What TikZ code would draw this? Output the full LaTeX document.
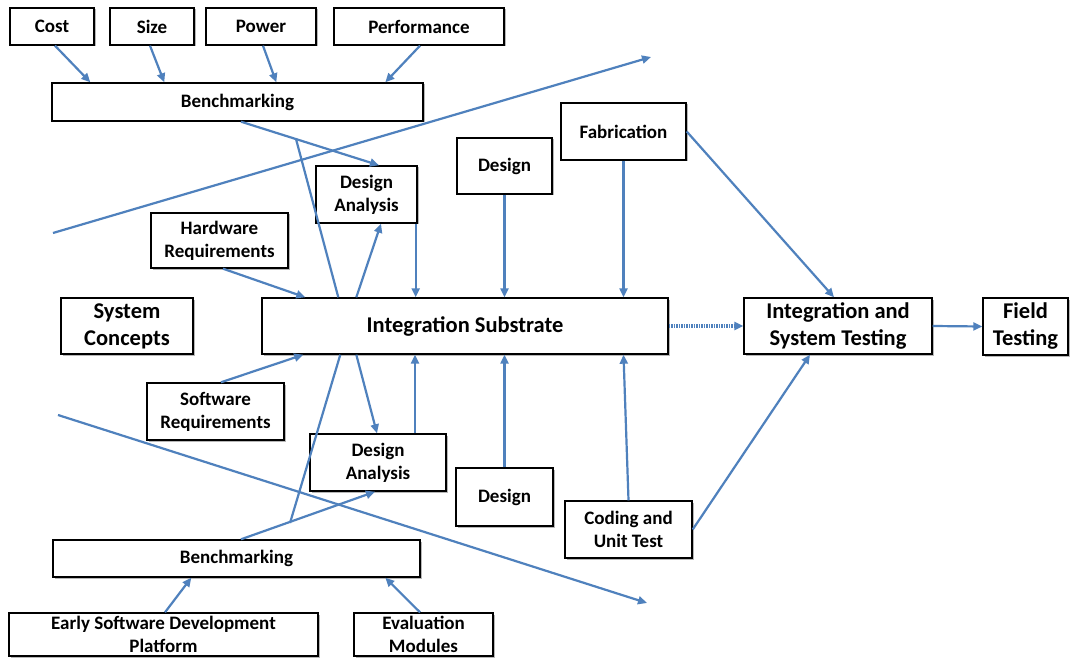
\documentclass[tikz,border=0pt]{standalone}
\usepackage{fontspec}
\setmainfont{Carlito}
\usetikzlibrary{arrows.meta, shadows}

\definecolor{flowblue}{RGB}{79,129,189}

\begin{document}
\begin{tikzpicture}[x=1pt, y=-1pt,
    block/.style={draw=black, line width=1.4pt, fill=white, inner sep=0pt, align=center,
        font=\fontsize{19}{23}\selectfont\bfseries,
        drop shadow={shadow xshift=1.5pt, shadow yshift=-1.5pt, fill=black!35, opacity=0.8}},
    bigbox/.style={block, font=\fontsize{22.5}{27}\selectfont\bfseries},
    flow/.style={-{Triangle[length=9pt, width=8pt]}, line width=2.2pt, flowblue},
    link/.style={line width=2.2pt, flowblue},
    dflow/.style={flow, dash pattern=on 1.5pt off 1pt, line width=3.5pt}
]
\fill[white] (0,0) rectangle (1070,660);
\useasboundingbox (0,0) rectangle (1070,660);

% Drivers along the top
\node[block, minimum width=84pt, minimum height=37pt] (C) at (52,26.5) {Cost};
\node[block, minimum width=84pt, minimum height=37pt] (Sz) at (152,26.5) {Size};
\node[block, minimum width=110pt, minimum height=37pt] (Pw) at (261,26.5) {Power};
\node[block, minimum width=170pt, minimum height=37pt] (Pf) at (419,26.5) {Performance};

% Hardware branch
\node[block, minimum width=371pt, minimum height=38pt] (B1) at (237.5,102) {Benchmarking};
\node[block, minimum width=101pt, minimum height=57pt] (DA1) at (366.5,194.5) {Design\\Analysis};
\node[block, minimum width=95pt, minimum height=56pt] (D1) at (504.5,166) {Design};
\node[block, minimum width=125pt, minimum height=57pt] (F) at (623.5,131.5) {Fabrication};
\node[block, minimum width=137pt, minimum height=55pt] (HR) at (219.5,240.5) {Hardware\\Requirements};

% Middle row
\node[bigbox, minimum width=132pt, minimum height=56pt] (SC) at (127,326) {System\\Concepts};
\node[bigbox, minimum width=406pt, minimum height=56pt] (IS) at (465,326) {Integration Substrate};
\node[bigbox, minimum width=188pt, minimum height=56pt] (IST) at (838,326) {Integration and\\System Testing};
\node[bigbox, minimum width=85pt, minimum height=57pt] (FT) at (1025.5,326.5) {Field\\Testing};

% Software branch
\node[block, minimum width=137pt, minimum height=57pt] (SR) at (215.5,411.5) {Software\\Requirements};
\node[block, minimum width=136pt, minimum height=57pt] (DA2) at (378,462.5) {Design\\Analysis};
\node[block, minimum width=97pt, minimum height=58pt] (D2) at (504.5,497) {Design};
\node[block, minimum width=127pt, minimum height=57pt] (CU) at (628.5,529.5) {Coding and\\Unit Test};
\node[block, minimum width=367pt, minimum height=37pt] (B2) at (236.5,558.5) {Benchmarking};
\node[block, minimum width=309pt, minimum height=43pt] (ESD) at (163.5,634.5) {Early Software Development\\Platform};
\node[block, minimum width=139pt, minimum height=43pt] (EM) at (423.5,634.5) {Evaluation\\Modules};

% Long sweeping arrows
\coordinate (T0) at (53,233);
\coordinate (T1) at (651,57);
\coordinate (S0) at (58,415);
\coordinate (S1) at (647,603);
\draw[flow] (T0) -- (T1);
\draw[flow] (S0) -- (S1);

% Inputs to benchmarking
\draw[flow] ([xshift=3pt]C.south) -- ([xshift=39pt]B1.north west);
\draw[flow] ([xshift=-2pt]Sz.south) -- ([xshift=113pt]B1.north west);
\draw[flow] ([xshift=2pt]Pw.south) -- ([xshift=225pt]B1.north west);
\draw[flow] ([xshift=1pt]Pf.south) -- ([xshift=334pt]B1.north west);

% Hardware side into the substrate
\draw[flow] ([xshift=3.5pt]B1.south) -- ([xshift=12.5pt]DA1.north);
\coordinate (J1) at (296,139);
\draw[link] ([xshift=77pt]IS.north west) -- (J1);
\draw[flow] ([xshift=95pt]IS.north west) -- ([xshift=14.5pt]DA1.south);
\draw[flow] ([xshift=-2pt]DA1.south east) -- ([xshift=-2pt]DA1.south east |- IS.north);
\draw[flow] (D1.south) -- (D1.south |- IS.north);
\draw[flow] (F.south) -- (F.south |- IS.north);
\draw[flow] (F.east) -- ([xshift=-4pt]IST.north);
\draw[flow] ([xshift=3.5pt]HR.south) -- ([xshift=44pt]IS.north west);

% Software side into the substrate
\draw[flow] ([xshift=4.5pt]B2.north) -- ([xshift=-3pt]DA2.south);
\coordinate (J2) at (290,523);
\draw[link] ([xshift=79pt]IS.south west) -- (J2);
\draw[flow] ([xshift=95pt]IS.south west) -- ([xshift=-1pt]DA2.north);
\draw[flow] ([xshift=37pt]DA2.north) -- ([xshift=37pt]DA2.north |- IS.south);
\draw[flow] (D2.north) -- (D2.north |- IS.south);
\draw[flow] (CU.north) -- (F.south |- IS.south);
\draw[flow] (CU.east) -- ([xshift=-28pt]IST.south);
\draw[flow] ([xshift=5.5pt]SR.north) -- ([xshift=42pt]IS.south west);
\draw[flow] ([xshift=1.5pt]ESD.north) -- ([xshift=139pt]B2.south west);
\draw[flow] ([xshift=-3.5pt]EM.north) -- ([xshift=333pt]B2.south west);

% Towards testing
\draw[dflow] (IS.east) -- (IST.west);
\draw[flow] (IST.east) -- (FT.west);
\end{tikzpicture}
\end{document}
